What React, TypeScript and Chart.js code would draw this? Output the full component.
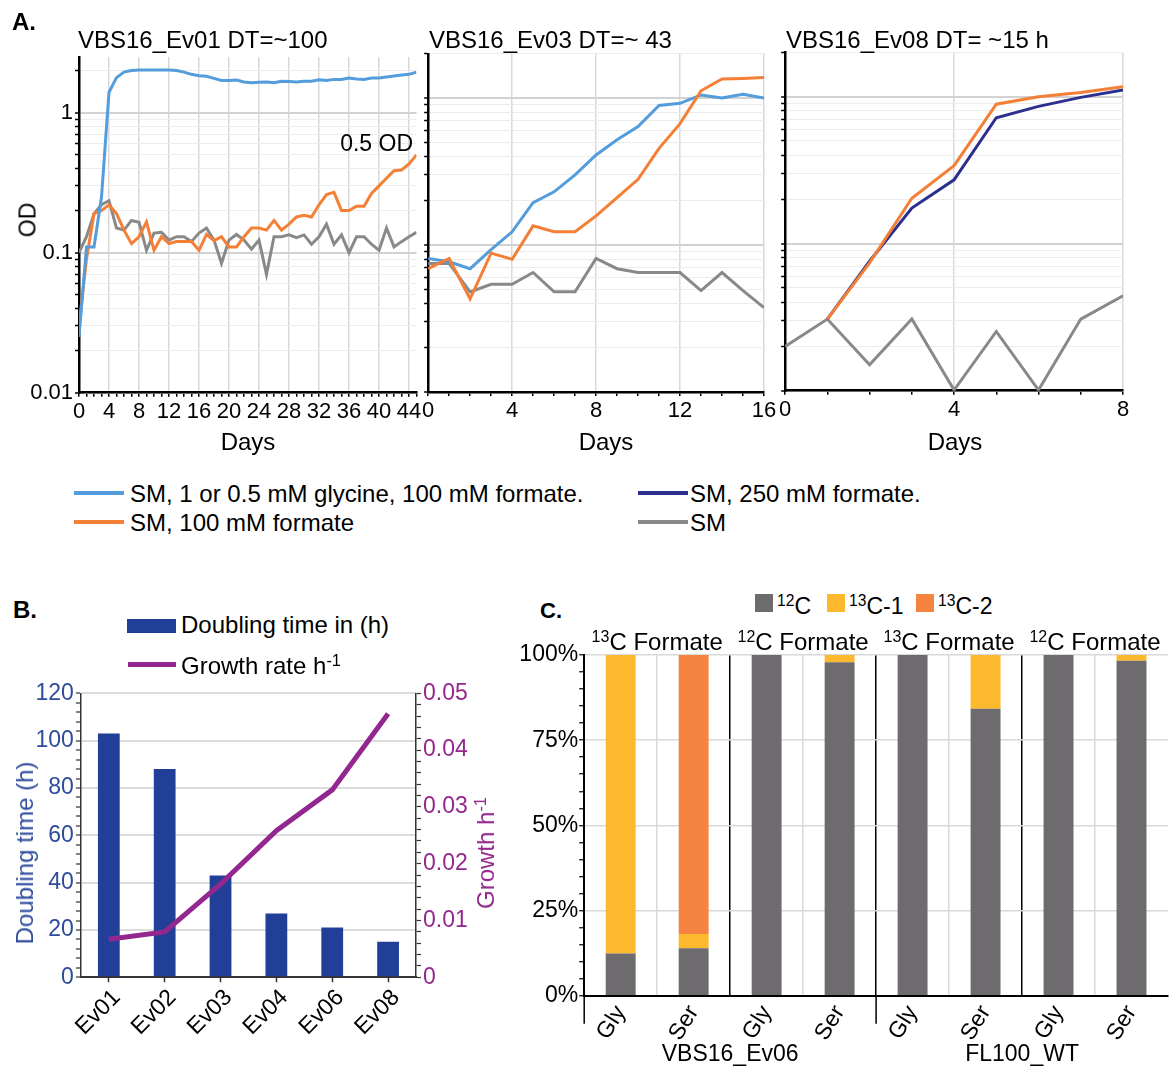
import React, { useEffect, useRef } from 'react';
import { Chart, registerables } from 'chart.js';

Chart.register(...registerables);
const FONT = '"Liberation Sans", Arial, Helvetica, sans-serif';
Chart.defaults.font.family = FONT;
Chart.defaults.color = '#000';

// ---------- Panel A : OD growth curves ----------
const daysEv01 = [0, 1, 2, 3, 4, 5, 6, 7, 8, 9, 10, 11, 12, 13, 14, 15, 16, 17, 18, 19, 20, 21, 22, 23, 24, 25, 26, 27, 28, 29, 30, 31, 32, 33, 34, 35, 36, 37, 38, 39, 40, 41, 42, 43, 44, 45];
const ev01Glycine = [0.025, 0.11, 0.11, 0.25, 1.4, 1.78, 1.95, 2.0, 2.02, 2.02, 2.02, 2.02, 2.02, 2.0, 1.95, 1.88, 1.84, 1.82, 1.76, 1.7, 1.7, 1.71, 1.66, 1.64, 1.65, 1.66, 1.64, 1.68, 1.67, 1.66, 1.68, 1.68, 1.72, 1.7, 1.73, 1.73, 1.77, 1.74, 1.73, 1.77, 1.77, 1.8, 1.83, 1.86, 1.88, 1.95];
const ev01Formate = [0.03, 0.09, 0.19, 0.2, 0.22, 0.19, 0.145, 0.116, 0.13, 0.166, 0.104, 0.13, 0.116, 0.12, 0.12, 0.12, 0.104, 0.135, 0.122, 0.13, 0.11, 0.11, 0.13, 0.15, 0.15, 0.145, 0.17, 0.145, 0.16, 0.18, 0.185, 0.18, 0.22, 0.26, 0.27, 0.2, 0.2, 0.215, 0.215, 0.265, 0.3, 0.34, 0.385, 0.39, 0.43, 0.5];
const ev01SM = [0.1, 0.13, 0.19, 0.22, 0.235, 0.15, 0.145, 0.17, 0.165, 0.104, 0.138, 0.14, 0.123, 0.13, 0.13, 0.12, 0.138, 0.15, 0.123, 0.084, 0.123, 0.135, 0.123, 0.106, 0.123, 0.07, 0.13, 0.13, 0.134, 0.128, 0.134, 0.115, 0.13, 0.16, 0.115, 0.134, 0.1, 0.13, 0.13, 0.115, 0.104, 0.15, 0.11, 0.12, 0.13, 0.14];
const ev01XTicks = [0, 4, 8, 12, 16, 20, 24, 28, 32, 36, 40, 44];

const daysEv03 = [0, 1, 2, 3, 4, 5, 6, 7, 8, 9, 10, 11, 12, 13, 14, 15, 16];
const ev03Glycine = [0.081, 0.077, 0.069, 0.093, 0.123, 0.194, 0.23, 0.3, 0.41, 0.52, 0.64, 0.89, 0.92, 1.05, 1.0, 1.06, 1.0];
const ev03Formate = [0.069, 0.081, 0.043, 0.088, 0.08, 0.135, 0.123, 0.123, 0.158, 0.21, 0.28, 0.455, 0.67, 1.12, 1.35, 1.36, 1.38];
const ev03SM = [0.075, 0.075, 0.048, 0.054, 0.054, 0.065, 0.048, 0.048, 0.081, 0.069, 0.065, 0.065, 0.065, 0.049, 0.065, 0.049, 0.0375];
const ev03XTicks = [0, 4, 8, 12, 16];

const daysEv08 = [0, 1, 2, 3, 4, 5, 6, 7, 8];
const ev08Formate100 = [null, 0.0307, 0.074, 0.204, 0.34, 0.89, 1.0, 1.07, 1.17];
const ev08Formate250 = [null, 0.0307, 0.076, 0.175, 0.272, 0.72, 0.86, 0.99, 1.11];
const ev08SM = [0.02, 0.0307, 0.015, 0.0307, 0.0101, 0.0253, 0.0101, 0.0307, 0.0443];
const ev08XTicks = [0, 4, 8];

const odLogTicks = [0.01, 0.02, 0.03, 0.04, 0.05, 0.06, 0.07, 0.08, 0.09, 0.1, 0.2, 0.3, 0.4, 0.5, 0.6, 0.7, 0.8, 0.9, 1, 2];
const odTickLabels = [0.01, 0.1, 1];

// ---------- Panel B ----------
const strains = ['Ev01', 'Ev02', 'Ev03', 'Ev04', 'Ev06', 'Ev08'];
const doublingTime = [103, 88, 43, 27, 21, 15];
const growthRate = [0.0067, 0.008, 0.0164, 0.0258, 0.033, 0.0464];
const dtTickLabels = [0, 20, 40, 60, 80, 100, 120];
const grTickLabels = [0, 0.01, 0.02, 0.03, 0.04, 0.05];

// ---------- Panel C ----------
const aminoAcids = ['Gly', 'Ser', 'Gly', 'Ser', 'Gly', 'Ser', 'Gly', 'Ser'];
const c12 = [12.4, 13.9, 100, 97.9, 100, 84.2, 100, 98.3];
const c13one = [87.6, 4.2, 0, 2.1, 0, 15.8, 0, 1.7];
const c13two = [0, 81.9, 0, 0, 0, 0, 0, 0];
const formateIsotopes = ['13', '12', '13', '12'];
const strainGroups = ['VBS16_Ev06', 'FL100_WT'];
const pctTickLabels = [0, 25, 50, 75, 100];

// colours
const BLUE = '#539ddc';
const ORANGE = '#f47f36';
const GRAY = '#898989';
const NAVY = '#2c2f8e';
const BAR_NAVY = '#223f98';
const PURPLE = '#93278f';
const BLUE_TXT = '#2e4b9c';
const C_GRAY = '#6d6b6e';
const C_YELLOW = '#fdb92d';
const C_ORANGE = '#f4843f';
const TRANSPARENT = 'rgba(0,0,0,0)';

const isDecade = (v: any) => typeof v === 'number' && v > 0 && Math.abs(Math.log10(v) - Math.round(Math.log10(v))) < 1e-6;
const near = (arr: number[], v: number) => arr.some((a) => Math.abs(a - v) < 1e-9);

type Series = { values: (number | null)[]; color: string };
type OdOpts = {
  days: number[]; series: Series[]; xMax: number; xLabels: number[]; yMax: number;
  yLabels: number[]; yWidth: number; xHeight: number; padTop: number; padRight: number;
};

function buildOd(canvas: HTMLCanvasElement, o: OdOpts) {
  return new Chart(canvas, {
    type: 'line',
    data: {
      datasets: o.series.map((s) => ({
        data: o.days.map((d, i) => ({ x: d, y: s.values[i] })),
        borderColor: s.color,
        borderWidth: 3,
        pointRadius: 0,
        tension: 0,
        fill: false,
      })),
    } as any,
    options: {
      responsive: false,
      animation: false,
      events: [],
      layout: { padding: { top: o.padTop, right: o.padRight, left: 0, bottom: 0 } },
      plugins: { legend: { display: false }, tooltip: { enabled: false } },
      scales: {
        x: {
          type: 'linear', min: 0, max: o.xMax,
          afterBuildTicks: (s: any) => { s.ticks = o.days.map((v) => ({ value: v })); },
          afterFit: (s: any) => { s.height = o.xHeight; },
          ticks: {
            autoSkip: false, maxRotation: 0, minRotation: 0, padding: 2, color: '#000',
            font: { size: 22 },
            callback: (v: any) => (near(o.xLabels, Number(v)) ? String(v) : ''),
          },
          grid: {
            color: (c: any) => (c.tick && c.tick.value !== 0 && near(o.xLabels, c.tick.value) ? '#d9d9d9' : TRANSPARENT),
            lineWidth: 1.5, tickColor: '#000', tickLength: 4, tickWidth: 1.5,
          },
          border: { color: '#000', width: 2.5 },
        },
        y: {
          type: 'logarithmic', min: 0.01, max: o.yMax,
          afterBuildTicks: (s: any) => { s.ticks = odLogTicks.filter((v) => v <= o.yMax + 1e-9).map((v) => ({ value: v })); },
          afterFit: (s: any) => { s.width = o.yWidth; },
          ticks: {
            autoSkip: false, padding: 2, color: '#000', font: { size: 22 },
            callback: (v: any) => (near(o.yLabels, Number(v)) ? String(v) : ''),
          },
          grid: {
            color: (c: any) => (isDecade(c.tick?.value) ? '#d2d2d2' : '#ececec'),
            lineWidth: (c: any) => (isDecade(c.tick?.value) ? 2 : 1),
            tickColor: '#000', tickLength: 4, tickWidth: 1.5,
          },
          border: { color: '#000', width: 2.5 },
        },
      },
    } as any,
  });
}

function buildB(canvas: HTMLCanvasElement) {
  const dtTicks: number[] = [];
  for (let v = 0; v <= 120; v += 4) dtTicks.push(v);
  const grTicks: number[] = [];
  for (let k = 0; k <= 25; k++) grTicks.push(k * 0.002);
  return new Chart(canvas, {
    type: 'bar',
    data: {
      labels: strains,
      datasets: [
        { type: 'line', data: growthRate, yAxisID: 'y1', borderColor: PURPLE, borderWidth: 5, pointRadius: 0, tension: 0, order: 0 },
        { type: 'bar', data: doublingTime, yAxisID: 'y', backgroundColor: BAR_NAVY, barPercentage: 0.39, categoryPercentage: 1, order: 1 },
      ],
    } as any,
    options: {
      responsive: false, animation: false, events: [],
      layout: { padding: { top: 23.3, right: 0, left: 0, bottom: 0 } },
      plugins: { legend: { display: false }, tooltip: { enabled: false } },
      scales: {
        x: {
          afterFit: (s: any) => { s.height = 88.7; },
          grid: { offset: false, color: TRANSPARENT, tickColor: '#333', tickLength: 5, tickWidth: 1.5 },
          border: { color: '#333', width: 2 },
          ticks: { color: '#000', font: { size: 23 }, minRotation: 45, maxRotation: 45, padding: 2, labelOffset: 8, autoSkip: false },
        },
        y: {
          position: 'left', min: 0, max: 120,
          afterBuildTicks: (s: any) => { s.ticks = dtTicks.map((v) => ({ value: v })); },
          afterFit: (s: any) => { s.width = 80.9; },
          ticks: { autoSkip: false, color: BLUE_TXT, font: { size: 23 }, padding: 2, callback: (v: any) => (near(dtTickLabels, Number(v)) ? String(v) : '') },
          grid: {
            color: (c: any) => (c.tick && c.tick.value !== 0 && near(dtTickLabels, c.tick.value) ? '#dcdcdc' : TRANSPARENT),
            lineWidth: 2, tickColor: '#333', tickLength: 5, tickWidth: 1.2,
          },
          border: { color: '#333', width: 1.5 },
        },
        y1: {
          position: 'right', min: 0, max: 0.05,
          afterBuildTicks: (s: any) => { s.ticks = grTicks.map((v) => ({ value: v })); },
          afterFit: (s: any) => { s.width = 124; },
          ticks: {
            autoSkip: false, color: PURPLE, font: { size: 23 }, padding: 2,
            callback: (v: any) => {
              const n = Number(v);
              if (!near(grTickLabels, n)) return '';
              return n === 0 ? '0' : n.toFixed(2);
            },
          },
          grid: { drawOnChartArea: false, color: TRANSPARENT, tickColor: '#333', tickLength: 5, tickWidth: 1.2 },
          border: { color: '#333', width: 1.5 },
        },
      },
    } as any,
  });
}

function drawSupText(ctx: CanvasRenderingContext2D, sup: string, main: string, cx: number, cy: number, size: number) {
  const supSize = Math.round(size * 0.68);
  ctx.font = `${supSize}px ${FONT}`;
  const ws = ctx.measureText(sup).width;
  ctx.font = `${size}px ${FONT}`;
  const wm = ctx.measureText(main).width;
  const x0 = cx - (ws + wm) / 2;
  const base = cy + 0.358 * size;
  ctx.textAlign = 'left';
  ctx.textBaseline = 'alphabetic';
  ctx.fillStyle = '#000';
  ctx.font = `${supSize}px ${FONT}`;
  ctx.fillText(sup, x0, base - size * 0.32);
  ctx.font = `${size}px ${FONT}`;
  ctx.fillText(main, x0 + ws, base);
}

const cLabelsPlugin = {
  id: 'cLabels',
  afterDraw(chart: any) {
    const { ctx, chartArea, scales } = chart;
    const x = scales.x;
    ctx.save();
    ctx.strokeStyle = '#000';
    ctx.lineWidth = 1.5;
    const mid = (x.getPixelForTick(3) + x.getPixelForTick(4)) / 2;
    ctx.beginPath();
    ctx.moveTo(mid, chartArea.bottom);
    ctx.lineTo(mid, chartArea.bottom + 28);
    ctx.moveTo(chartArea.left, chartArea.bottom);
    ctx.lineTo(chartArea.left, chartArea.bottom + 28);
    ctx.stroke();
    formateIsotopes.forEach((iso, g) => {
      const cx = (x.getPixelForTick(2 * g) + x.getPixelForTick(2 * g + 1)) / 2;
      drawSupText(ctx, iso, 'C Formate', cx, chartArea.top - 13.5, 24);
    });
    ctx.font = `23px ${FONT}`;
    ctx.textAlign = 'center';
    ctx.textBaseline = 'alphabetic';
    ctx.fillStyle = '#000';
    strainGroups.forEach((name, g) => {
      const cx = (x.getPixelForTick(4 * g + 1) + x.getPixelForTick(4 * g + 2)) / 2;
      ctx.fillText(name, cx, chartArea.bottom + 57.3 + 0.358 * 23);
    });
    ctx.restore();
  },
};

function buildC(canvas: HTMLCanvasElement) {
  const pctTicks: number[] = [];
  for (let v = 0; v <= 100; v += 5) pctTicks.push(v);
  const common = { barPercentage: 0.41, categoryPercentage: 1 };
  return new Chart(canvas, {
    type: 'bar',
    data: {
      labels: aminoAcids,
      datasets: [
        { label: '12C', data: c12, backgroundColor: C_GRAY, ...common },
        { label: '13C-1', data: c13one, backgroundColor: C_YELLOW, ...common },
        { label: '13C-2', data: c13two, backgroundColor: C_ORANGE, ...common },
      ],
    },
    options: {
      responsive: false, animation: false, events: [],
      layout: { padding: { top: 30, right: 1, left: 0, bottom: 0 } },
      plugins: { legend: { display: false }, tooltip: { enabled: false } },
      scales: {
        x: {
          stacked: true,
          afterFit: (s: any) => { s.height = 70.3; },
          grid: {
            offset: true, drawTicks: false,
            color: (c: any) => {
              if (c.type !== 'tick' || c.index === 0) return TRANSPARENT;
              return c.index % 2 === 0 ? '#000' : '#d9d9d9';
            },
            lineWidth: 1.5,
          },
          border: { color: '#000', width: 2 },
          ticks: { color: '#000', font: { size: 23 }, minRotation: 58, maxRotation: 58, padding: 5, autoSkip: false },
        },
        y: {
          stacked: true, min: 0, max: 100,
          afterBuildTicks: (s: any) => { s.ticks = pctTicks.map((v) => ({ value: v })); },
          afterFit: (s: any) => { s.width = 64.2; },
          ticks: { autoSkip: false, color: '#000', font: { size: 23 }, padding: 1, callback: (v: any) => (near(pctTickLabels, Number(v)) ? `${v}%` : '') },
          grid: {
            color: (c: any) => (c.tick && c.tick.value !== 0 && near(pctTickLabels, c.tick.value) ? '#d9d9d9' : TRANSPARENT),
            lineWidth: 1.5, tickColor: '#000', tickLength: 5, tickWidth: 1.2,
          },
          border: { color: '#000', width: 2 },
        },
      },
    } as any,
    plugins: [cLabelsPlugin],
  });
}

type Box = { x: number; y: number; w: number; h: number };

function ChartCanvas({ box, build }: { box: Box; build: (c: HTMLCanvasElement) => Chart }) {
  const ref = useRef<HTMLCanvasElement | null>(null);
  useEffect(() => {
    if (!ref.current) return;
    const chart = build(ref.current);
    return () => chart.destroy();
  }, []);
  return (
    <canvas
      ref={ref}
      width={box.w}
      height={box.h}
      style={{ position: 'absolute', left: box.x, top: box.y, width: box.w, height: box.h }}
    />
  );
}

function Txt({ x, cy, size = 24, bold = false, color = '#000', anchor = 'start', children }: any) {
  const tx = anchor === 'middle' ? '-50%' : anchor === 'end' ? '-100%' : '0';
  return (
    <div
      style={{
        position: 'absolute', left: x, top: cy - 0.49 * size, fontSize: size, lineHeight: `${size}px`,
        fontWeight: bold ? 700 : 400, color, whiteSpace: 'nowrap', transform: `translateX(${tx})`,
      }}
    >
      {children}
    </div>
  );
}

function VTxt({ cx, cy, size = 24, color = '#000', children }: any) {
  return (
    <div
      style={{
        position: 'absolute', left: cx, top: cy, fontSize: size, lineHeight: `${size}px`, color,
        whiteSpace: 'nowrap', transform: 'translate(-50%,-50%) rotate(-90deg)',
      }}
    >
      {children}
    </div>
  );
}

const Sup = ({ children }: any) => (
  <span style={{ fontSize: '0.68em', position: 'relative', top: '-0.5em' }}>{children}</span>
);

function Swatch({ x, y, w, h, color }: any) {
  return <div style={{ position: 'absolute', left: x, top: y, width: w, height: h, background: color }} />;
}

export default function App() {
  return (
    <div
      style={{
        position: 'absolute', left: 0, top: 0, width: 1169, height: 1066, background: '#fff',
        fontFamily: FONT, color: '#000', overflow: 'hidden',
      }}
    >
      <ChartCanvas
        box={{ x: 0, y: 30, w: 440, h: 425 }}
        build={(c) => buildOd(c, {
          days: daysEv01,
          series: [
            { values: ev01Glycine, color: BLUE },
            { values: ev01Formate, color: ORANGE },
            { values: ev01SM, color: GRAY },
          ],
          xMax: 45, xLabels: ev01XTicks, yMax: 2.5, yLabels: odTickLabels,
          yWidth: 79, xHeight: 62.3, padTop: 27, padRight: 23.5,
        })}
      />
      <ChartCanvas
        box={{ x: 420, y: 30, w: 360, h: 425 }}
        build={(c) => buildOd(c, {
          days: daysEv03,
          series: [
            { values: ev03Formate, color: ORANGE },
            { values: ev03Glycine, color: BLUE },
            { values: ev03SM, color: GRAY },
          ],
          xMax: 16, xLabels: ev03XTicks, yMax: 2, yLabels: [],
          yWidth: 8, xHeight: 63, padTop: 23.8, padRight: 16,
        })}
      />
      <ChartCanvas
        box={{ x: 777, y: 30, w: 392, h: 425 }}
        build={(c) => buildOd(c, {
          days: daysEv08,
          series: [
            { values: ev08Formate100, color: ORANGE },
            { values: ev08Formate250, color: NAVY },
            { values: ev08SM, color: GRAY },
          ],
          xMax: 8, xLabels: ev08XTicks, yMax: 2, yLabels: [],
          yWidth: 8, xHeight: 64.3, padTop: 22.5, padRight: 46,
        })}
      />
      <ChartCanvas box={{ x: 0, y: 670, w: 540, h: 396 }} build={buildB} />
      <ChartCanvas box={{ x: 520, y: 625, w: 649, h: 441 }} build={buildC} />

      {/* Panel A texts */}
      <Txt x={12} cy={22} size={24} bold>A.</Txt>
      <Txt x={78} cy={40} size={24}>VBS16_Ev01 DT=~100</Txt>
      <Txt x={429} cy={40} size={24}>VBS16_Ev03 DT=~ 43</Txt>
      <Txt x={786} cy={40} size={24}>VBS16_Ev08 DT= ~15 h</Txt>
      <Txt x={413} cy={143} size={23} anchor="end">0.5 OD</Txt>
      <VTxt cx={28} cy={220} size={23}>OD</VTxt>
      <Txt x={248} cy={442} size={24} anchor="middle">Days</Txt>
      <Txt x={606} cy={442} size={24} anchor="middle">Days</Txt>
      <Txt x={955} cy={442} size={24} anchor="middle">Days</Txt>

      {/* Panel A legend */}
      <Swatch x={74} y={491} w={50} h={4} color={BLUE} />
      <Txt x={130} cy={494} size={24}>SM, 1 or 0.5 mM glycine, 100 mM formate.</Txt>
      <Swatch x={74} y={520} w={50} h={4} color={ORANGE} />
      <Txt x={130} cy={523} size={24}>SM, 100 mM formate</Txt>
      <Swatch x={638} y={491} w={50} h={4} color={NAVY} />
      <Txt x={690} cy={494} size={24}>SM, 250 mM formate.</Txt>
      <Swatch x={638} y={520} w={50} h={4} color={GRAY} />
      <Txt x={690} cy={523} size={24}>SM</Txt>

      {/* Panel B texts */}
      <Txt x={13} cy={610} size={24} bold>B.</Txt>
      <Swatch x={127} y={619} w={49} h={14} color={BAR_NAVY} />
      <Txt x={181} cy={625} size={24}>Doubling time in (h)</Txt>
      <Swatch x={128} y={662} w={48} h={5} color={PURPLE} />
      <Txt x={181} cy={666} size={24}>Growth rate h<Sup>-1</Sup></Txt>
      <VTxt cx={25} cy={853} size={24} color={BLUE_TXT}>Doubling time (h)</VTxt>
      <VTxt cx={487} cy={853} size={24} color={PURPLE}>Growth h<Sup>-1</Sup></VTxt>

      {/* Panel C texts */}
      <Txt x={540} cy={611} size={22} bold>C.</Txt>
      <Swatch x={755} y={594} w={18} h={18} color={C_GRAY} />
      <Txt x={777} cy={606} size={23}><Sup>12</Sup>C</Txt>
      <Swatch x={827} y={594} w={18} h={18} color={C_YELLOW} />
      <Txt x={849} cy={606} size={23}><Sup>13</Sup>C-1</Txt>
      <Swatch x={916} y={594} w={18} h={18} color={C_ORANGE} />
      <Txt x={938} cy={606} size={23}><Sup>13</Sup>C-2</Txt>
    </div>
  );
}
